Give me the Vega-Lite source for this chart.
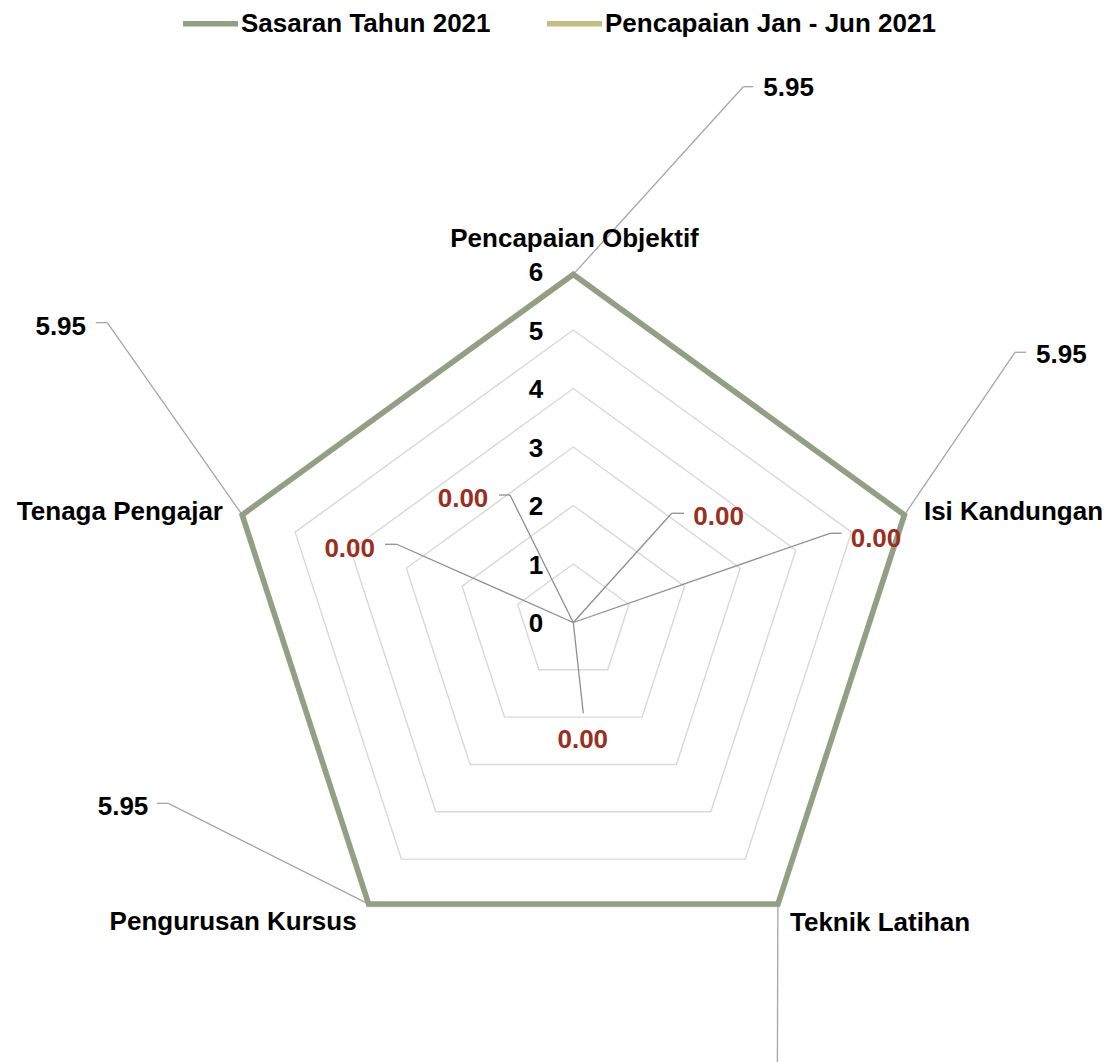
{
  "$schema": "https://vega.github.io/schema/vega-lite/v6.json",
  "width": 1113,
  "height": 1062,
  "autosize": "none",
  "padding": 0,
  "background": "white",
  "config": {
    "view": {"stroke": null},
    "text": {"font": "Liberation Sans", "fontWeight": "bold", "fontSize": 26}
  },
  "datasets": {
    "scores": [
      {"series": "Sasaran Tahun 2021", "category": "Pencapaian Objektif", "idx": 0, "value": 5.95},
      {"series": "Sasaran Tahun 2021", "category": "Isi Kandungan", "idx": 1, "value": 5.95},
      {"series": "Sasaran Tahun 2021", "category": "Teknik Latihan", "idx": 2, "value": 5.95},
      {"series": "Sasaran Tahun 2021", "category": "Pengurusan Kursus", "idx": 3, "value": 5.95},
      {"series": "Sasaran Tahun 2021", "category": "Tenaga Pengajar", "idx": 4, "value": 5.95},
      {"series": "Pencapaian Jan - Jun 2021", "category": "Pencapaian Objektif", "idx": 0, "value": 0},
      {"series": "Pencapaian Jan - Jun 2021", "category": "Isi Kandungan", "idx": 1, "value": 0},
      {"series": "Pencapaian Jan - Jun 2021", "category": "Teknik Latihan", "idx": 2, "value": 0},
      {"series": "Pencapaian Jan - Jun 2021", "category": "Pengurusan Kursus", "idx": 3, "value": 0},
      {"series": "Pencapaian Jan - Jun 2021", "category": "Tenaga Pengajar", "idx": 4, "value": 0}
    ],
    "rings": [
      {"level": 1, "idx": 0}, {"level": 1, "idx": 1}, {"level": 1, "idx": 2}, {"level": 1, "idx": 3}, {"level": 1, "idx": 4},
      {"level": 2, "idx": 0}, {"level": 2, "idx": 1}, {"level": 2, "idx": 2}, {"level": 2, "idx": 3}, {"level": 2, "idx": 4},
      {"level": 3, "idx": 0}, {"level": 3, "idx": 1}, {"level": 3, "idx": 2}, {"level": 3, "idx": 3}, {"level": 3, "idx": 4},
      {"level": 4, "idx": 0}, {"level": 4, "idx": 1}, {"level": 4, "idx": 2}, {"level": 4, "idx": 3}, {"level": 4, "idx": 4},
      {"level": 5, "idx": 0}, {"level": 5, "idx": 1}, {"level": 5, "idx": 2}, {"level": 5, "idx": 3}, {"level": 5, "idx": 4},
      {"level": 6, "idx": 0}, {"level": 6, "idx": 1}, {"level": 6, "idx": 2}, {"level": 6, "idx": 3}, {"level": 6, "idx": 4}
    ],
    "ticks": [{"tick": 0}, {"tick": 1}, {"tick": 2}, {"tick": 3}, {"tick": 4}, {"tick": 5}, {"tick": 6}]
  },
  "encoding": {
    "x": {"field": "px", "type": "quantitative", "scale": {"domain": [-9.8, 9.226], "nice": false, "zero": false}, "axis": null},
    "y": {"field": "py", "type": "quantitative", "scale": {"domain": [-7.513, 10.641], "nice": false, "zero": false}, "axis": null}
  },
  "layer": [
    {
      "data": {"name": "rings"},
      "transform": [
        {"calculate": "datum.level * sin(datum.idx * 2 * PI / 5)", "as": "px"},
        {"calculate": "datum.level * cos(datum.idx * 2 * PI / 5)", "as": "py"}
      ],
      "mark": {"type": "line", "interpolate": "linear-closed", "color": "#d9d9d9", "strokeWidth": 1.4},
      "encoding": {"detail": {"field": "level", "type": "nominal"}, "order": {"field": "idx", "type": "quantitative"}}
    },
    {
      "data": {"name": "scores"},
      "transform": [
        {"calculate": "datum.value * sin(datum.idx * 2 * PI / 5)", "as": "px"},
        {"calculate": "datum.value * cos(datum.idx * 2 * PI / 5)", "as": "py"},
        {"calculate": "datum.series === 'Sasaran Tahun 2021' ? datum.idx : datum.idx + 5", "as": "k"},
        {"calculate": "[2.906, 7.55, 3.487, -6.923, -7.966, -1.082, 1.682, 4.388, 0.171, -3.019][datum.k]", "as": "ex"},
        {"calculate": "[9.159, 4.619, -8.2, -3.091, 5.125, 2.179, 1.867, 1.525, -1.552, 1.337][datum.k]", "as": "ey"},
        {"calculate": "[3.077, 7.738, 3.68, -7.121, -8.164, -1.27, 1.892, 4.588, 0.171, -3.219][datum.k]", "as": "hx"}
      ],
      "encoding": {
        "stroke": {"condition": {"test": "datum.value > 0", "value": "#a6a6a6"}, "value": "#8f8f8f"}
      },
      "layer": [
        {
          "mark": {"type": "rule", "strokeWidth": 1.3},
          "encoding": {"x2": {"field": "ex"}, "y2": {"field": "ey"}}
        },
        {
          "mark": {"type": "rule", "strokeWidth": 1.3},
          "encoding": {
            "x": {"field": "ex", "type": "quantitative"},
            "y": {"field": "ey", "type": "quantitative"},
            "x2": {"field": "hx"},
            "y2": {"field": "ey"}
          }
        }
      ]
    },
    {
      "data": {"name": "scores"},
      "transform": [
        {"calculate": "datum.value * sin(datum.idx * 2 * PI / 5)", "as": "px"},
        {"calculate": "datum.value * cos(datum.idx * 2 * PI / 5)", "as": "py"}
      ],
      "mark": {"type": "line", "interpolate": "linear-closed", "strokeWidth": 5.5, "strokeJoin": "miter"},
      "encoding": {
        "color": {
          "field": "series", "type": "nominal",
          "scale": {"domain": ["Sasaran Tahun 2021", "Pencapaian Jan - Jun 2021"], "range": ["#929f84", "#c6bd84"]},
          "legend": {
            "orient": "none", "legendX": 180, "legendY": -7, "direction": "horizontal", "columns": 2,
            "title": null, "symbolType": "stroke", "symbolSize": 3025, "symbolStrokeWidth": 5.5,
            "labelFont": "Liberation Sans", "labelFontSize": 26, "labelFontWeight": "bold", "labelColor": "#000000",
            "labelOffset": 0, "columnPadding": 45, "padding": 0, "labelLimit": 0
          }
        },
        "order": {"field": "idx", "type": "quantitative"}
      }
    },
    {
      "data": {"name": "ticks"},
      "transform": [
        {"calculate": "0 * datum.tick", "as": "px"},
        {"calculate": "datum.tick", "as": "py"}
      ],
      "mark": {"type": "text", "align": "right", "baseline": "middle", "dx": -30, "dy": 2, "color": "#000000"},
      "encoding": {
        "text": {"field": "tick", "type": "quantitative"}
      }
    },
    {
      "data": {"name": "scores"},
      "transform": [
        {"calculate": "datum.series === 'Sasaran Tahun 2021' ? datum.idx : datum.idx + 5", "as": "k"},
        {"filter": "datum.k !== 2"},
        {"calculate": "[3.68, 8.342, 4.28, -7.697, -8.762, -1.885, 2.484, 5.174, 0.162, -3.822][datum.k]", "as": "px"},
        {"calculate": "[9.0, 4.431, -8.9, -3.291, 4.915, 1.969, 1.667, 1.296, -2.15, 1.125][datum.k]", "as": "py"}
      ],
      "mark": {"type": "text", "align": "center", "baseline": "alphabetic"},
      "encoding": {
        "text": {"field": "value", "type": "quantitative", "format": ".2f"},
        "color": {"condition": {"test": "datum.value > 0", "value": "#000000"}, "value": "#9b2f1f"}
      }
    },
    {
      "data": {"name": "scores"},
      "transform": [
        {"filter": "datum.series === 'Sasaran Tahun 2021'"},
        {"calculate": "[0.021, 5.994, 3.704, -3.703, -5.988][datum.idx]", "as": "px"},
        {"calculate": "[6.419, 1.752, -5.268, -5.256, 1.752][datum.idx]", "as": "py"}
      ],
      "encoding": {"text": {"field": "category", "type": "nominal"}},
      "layer": [
        {"transform": [{"filter": "datum.idx === 0"}], "mark": {"type": "text", "align": "center", "baseline": "alphabetic", "color": "#000000"}},
        {"transform": [{"filter": "datum.idx === 1 || datum.idx === 2"}], "mark": {"type": "text", "align": "left", "baseline": "alphabetic", "color": "#000000"}},
        {"transform": [{"filter": "datum.idx >= 3"}], "mark": {"type": "text", "align": "right", "baseline": "alphabetic", "color": "#000000"}}
      ]
    }
  ]
}
